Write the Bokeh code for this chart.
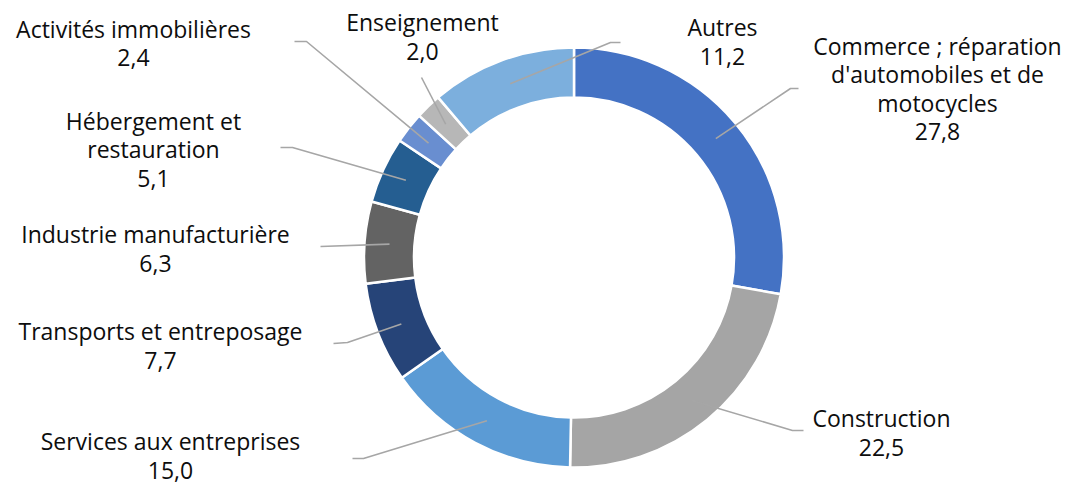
import math
from bokeh.plotting import figure
from bokeh.models import Range1d, ColumnDataSource
from bokeh.core.properties import value
from bokeh.embed import file_html
from bokeh.resources import INLINE

# ---- data (clockwise from 12 o'clock) ----
categories = [
    "Commerce ; réparation\nd'automobiles et de\nmotocycles",
    "Construction",
    "Services aux entreprises",
    "Transports et entreposage",
    "Industrie manufacturière",
    "Hébergement et\nrestauration",
    "Activités immobilières",
    "Enseignement",
    "Autres",
]
shares = [27.8, 22.5, 15.0, 7.7, 6.3, 5.1, 2.4, 2.0, 11.2]
colors = ["#4472C4", "#A5A5A5", "#5B9BD5", "#264478", "#636363",
          "#255E91", "#698ED0", "#B7B7B7", "#7CAFDD"]

# ---- layout (page pixel coords, y down) ----
CX, CY = 573.5, 257.0
R_OUT, R_IN = 210.0, 160.0
R_MID = (R_OUT + R_IN) / 2
label_pos = [(937, 88), (881, 432), (170, 455), (160, 345), (155, 248),
             (153, 149), (133, 42.5), (422, 36), (722, 41)]
knees = [(790, 88), (792, 430), (363, 458), (347, 342), (320, 246),
         (292, 147), (306, 41), (421, 77), (610, 42)]
ends = [(798, 88), (803, 430), (352, 458), (333, 343), (320, 246),
        (280, 147), (294, 41), (421, 77), (620, 42)]

W, H = 1068, 486
OFF = 0  # Bokeh's page template has no body margin


def fx(x):
    return x


def fy(y):
    return -y


p = figure(width=W, height=H, output_backend="svg", toolbar_location=None,
           x_range=Range1d(OFF, OFF + W), y_range=Range1d(-(OFF + H), -OFF),
           min_border=0)
p.axis.visible = False
p.grid.visible = False
p.outline_line_color = None
p.background_fill_color = "white"
p.border_fill_color = "white"

total = sum(shares)
starts, ends_a, mids = [], [], []
cum = 0.0
for s in shares:
    t1 = cum / total * 2 * math.pi
    t2 = (cum + s) / total * 2 * math.pi
    starts.append(math.pi / 2 - t2)
    ends_a.append(math.pi / 2 - t1)
    mids.append((t1 + t2) / 2)
    cum += s

src = ColumnDataSource(dict(x=[fx(CX)] * len(shares), y=[fy(CY)] * len(shares),
                            start=starts, end=ends_a, color=colors))
p.annular_wedge(x="x", y="y", inner_radius=R_IN, outer_radius=R_OUT,
                start_angle="start", end_angle="end", direction="anticlock",
                fill_color="color", line_color="white", line_width=2.5,
                source=src)

# leader lines
xs, ys = [], []
for m, k, e in zip(mids, knees, ends):
    sx = CX + R_MID * math.sin(m)
    sy = CY - R_MID * math.cos(m)
    xs.append([fx(sx), fx(k[0]), fx(e[0])])
    ys.append([fy(sy), fy(k[1]), fy(e[1])])
p.multi_line(xs=xs, ys=ys, line_color="#A6A6A6", line_width=1.6)

# labels
texts = [f"{c}\n{str(v).replace('.', ',')}" for c, v in zip(categories, shares)]
p.text(x=[fx(l[0]) for l in label_pos], y=[fy(l[1]) for l in label_pos],
       text=texts, text_align="center", text_baseline="middle",
       text_font=value("Open Sans"), text_font_size="23px",
       text_color="#0D0D0D", text_line_height=0.89)

open("out.html", "w").write(file_html(p, INLINE))
